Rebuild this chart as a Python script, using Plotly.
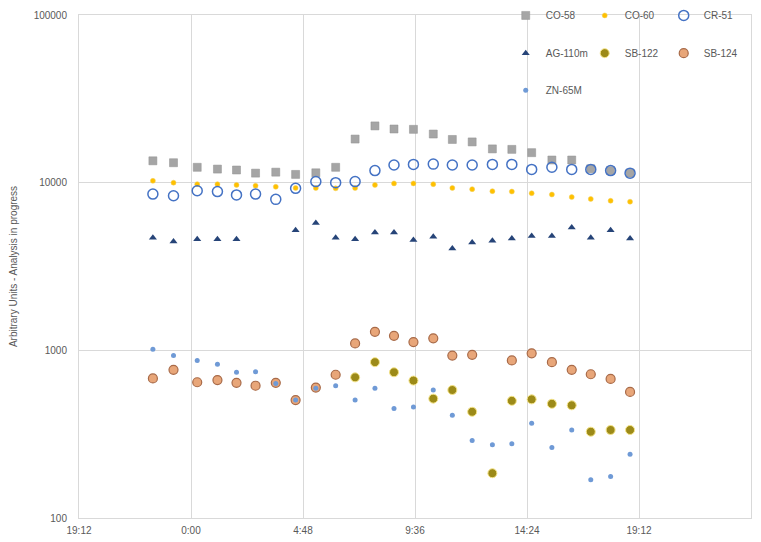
import plotly.graph_objects as go

# Sample times (one measurement roughly every 50 minutes)
times = [
    "2023-01-01 22:22", "2023-01-01 23:15", "2023-01-02 00:16", "2023-01-02 01:08",
    "2023-01-02 01:57", "2023-01-02 02:46", "2023-01-02 03:38", "2023-01-02 04:29",
    "2023-01-02 05:21", "2023-01-02 06:12", "2023-01-02 07:02", "2023-01-02 07:53",
    "2023-01-02 08:42", "2023-01-02 09:32", "2023-01-02 10:23", "2023-01-02 11:12",
    "2023-01-02 12:03", "2023-01-02 12:55", "2023-01-02 13:45", "2023-01-02 14:36",
    "2023-01-02 15:28", "2023-01-02 16:19", "2023-01-02 17:08", "2023-01-02 17:59",
    "2023-01-02 18:49",
]

co58 = [13500, 13150, 12350, 12050, 11900, 11400, 11550, 11200, 11450, 12350,
        18200, 21800, 20900, 20800, 19500, 18100, 17500, 15900, 15800, 15100,
        13650, 13650, 12100, 11800, 11400]
co60 = [10250, 10000, 9800, 9800, 9700, 9600, 9450, 9300, 9300, 9250,
        9300, 9700, 9900, 9900, 9800, 9300, 9150, 8900, 8850, 8650,
        8500, 8200, 8000, 7800, 7700]
cr51 = [8550, 8350, 8950, 8850, 8450, 8550, 7950, 9250, 10150, 10000,
        10150, 11800, 12750, 12850, 12900, 12750, 12750, 12850, 12850, 12000,
        12350, 12000, 12000, 11800, 11400]
ag110m = [4700, 4450, 4600, 4600, 4600, None, None, 5200, 5750, 4700,
          4600, 5050, 5050, 4550, 4750, 4050, 4400, 4500, 4650, 4800,
          4800, 5400, 4700, 5200, 4650]
sb122 = [None, None, None, None, None, None, None, None, None, None,
         690, 850, 740, 660, 515, 580, 430, 185, 500, 510,
         480, 470, 327, 335, 335]
sb124 = [680, 765, 645, 665, 640, 615, 640, 505, 600, 715,
         1100, 1290, 1220, 1120, 1180, 930, 940, None, 870, 960,
         850, 765, 720, 675, 565]
zn65m = [1015, 930, 870, 825, 740, 745, 635, 506, 595, 615,
         505, 595, 450, 460, 580, 410, 290, 273, 277, 367,
         263, 335, 169, 177, 240]

x_ticks = ["2023-01-01 19:12", "2023-01-02 00:00", "2023-01-02 04:48",
           "2023-01-02 09:36", "2023-01-02 14:24", "2023-01-02 19:12",
           "2023-01-03 00:00"]
x_tick_text = ["19:12", "0:00", "4:48", "9:36", "14:24", "19:12", "0:00"]
y_ticks = [100, 1000, 10000, 100000]
y_tick_text = ["100", "1000", "10000", "100000"]

FONT = "Liberation Sans Narrow, Arial Narrow, Liberation Sans, Arial, sans-serif"
TXT = "#595959"
GRID = "#d9d9d9"

series = [
    ("CO-58", co58, dict(symbol="square", size=8, color="#a5a5a5",
                         line=dict(color="#909090", width=0.5)), "legend"),
    ("CO-60", co60, dict(symbol="circle", size=5, color="#ffc000",
                         line=dict(color="#f0d060", width=0.5)), "legend"),
    ("CR-51", cr51, dict(symbol="circle-open", size=10, color="#4472c4",
                         line=dict(color="#4472c4", width=1.5)), "legend"),
    ("AG-110m", ag110m, dict(symbol="triangle-up", size=7, color="#264478",
                             line=dict(width=0)), "legend2"),
    ("SB-122", sb122, dict(symbol="circle", size=9, color="#9c8a18",
                           line=dict(color="#f6e58a", width=1)), "legend2"),
    ("SB-124", sb124, dict(symbol="circle", size=9, color="#e8a679",
                           line=dict(color="#a86a48", width=1.2)), "legend2"),
    ("ZN-65M", zn65m, dict(symbol="circle", size=5, color="#6f9ad6",
                           line=dict(width=0)), "legend3"),
]

fig = go.Figure()
for name, vals, marker, leg in series:
    fig.add_trace(go.Scatter(x=times, y=vals, name=name, mode="markers",
                             marker=marker, legend=leg))

leg_common = dict(orientation="h", entrywidth=34, entrywidthmode="pixels",
                  bgcolor="rgba(0,0,0,0)", font=dict(family=FONT, size=10, color=TXT),
                  xanchor="left", yanchor="top", itemwidth=30)

fig.update_layout(
    width=761, height=542,
    margin=dict(l=79, r=10, t=15, b=24, autoexpand=False),
    plot_bgcolor="white", paper_bgcolor="white",
    font=dict(family=FONT, size=10, color=TXT),
    legend=dict(x=0.635, y=1.028, **leg_common),
    legend2=dict(x=0.635, y=0.953, **leg_common),
    legend3=dict(x=0.635, y=0.879, **leg_common),
    xaxis=dict(
        type="date",
        range=["2023-01-01 19:12", "2023-01-03 00:00"],
        tickmode="array", tickvals=x_ticks, ticktext=x_tick_text,
        showgrid=True, gridcolor=GRID, gridwidth=1,
        showline=True, linecolor=GRID, mirror=True,
        ticks="", zeroline=False, ticklabelstandoff=3,
        tickfont=dict(family=FONT, size=10, color=TXT),
    ),
    yaxis=dict(
        type="log", range=[2, 5],
        tickmode="array", tickvals=y_ticks, ticktext=y_tick_text,
        showgrid=True, gridcolor=GRID, gridwidth=1,
        showline=True, linecolor=GRID, mirror=True,
        ticks="", zeroline=False, ticklabelstandoff=9,
        tickfont=dict(family=FONT, size=10, color=TXT),
        title=dict(text="Arbitrary Units - Analysis in progress",
                   font=dict(family=FONT, size=10, color=TXT), standoff=14),
    ),
)

fig.write_html("out.html")
